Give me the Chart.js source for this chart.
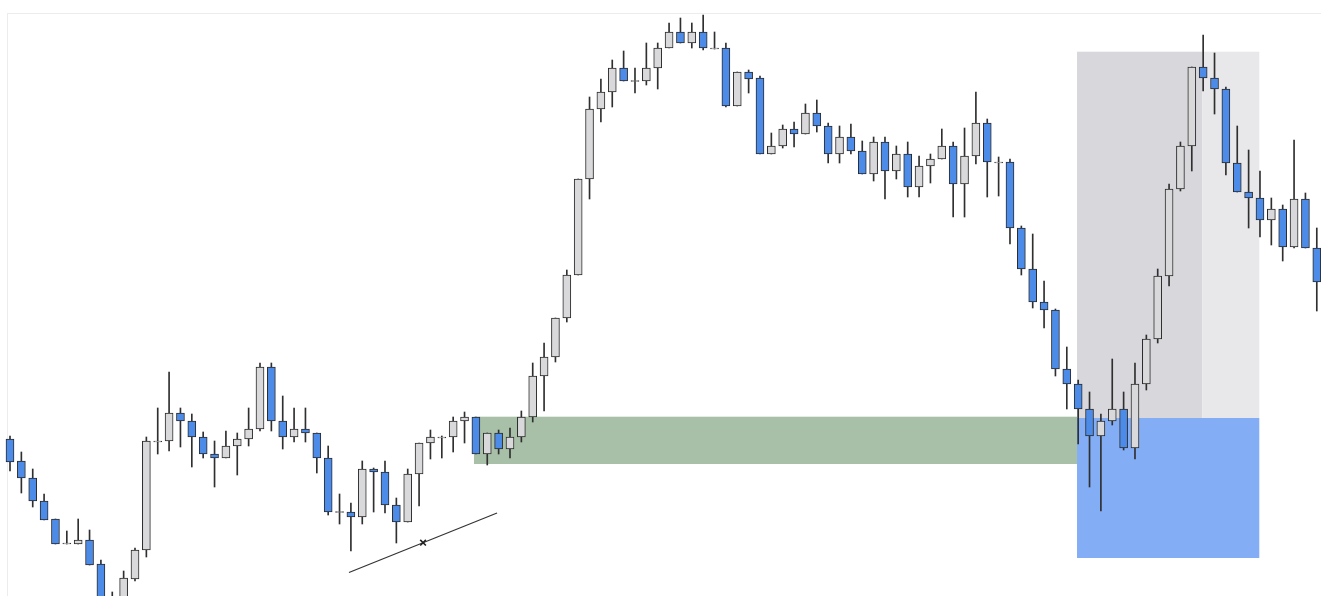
<!DOCTYPE html>
<html>
<head>
<meta charset="utf-8">
<title>Candles</title>
<script src="https://cdn.jsdelivr.net/npm/chart.js@4.4.1/dist/chart.umd.min.js"></script>
<style>
  html, body { margin: 0; padding: 0; background: #fff; }
  #wrap { position: relative; width: 1321px; height: 596px; overflow: hidden; }
  #frame { position: absolute; left: 7px; top: 13px; right: 0; bottom: 0;
           border-left: 1px solid #ececec; border-top: 1px solid #ececec; }
  #chart { position: absolute; left: 0; top: 0; }
</style>
</head>
<body>
<div id="wrap">
  <div id="frame"></div>
  <canvas id="chart" width="1321" height="596"></canvas>
</div>
<script>
// OHLC per bar, oldest first
const opens = [157, 135, 118, 95, 77, 52, 52, 56, 32, -4,
  -16, 17, 46, 154, 155, 183, 175, 159, 142, 138,
  150, 157, 167, 229, 175, 159, 167, 163, 138, 83.5,
  84, 79, 127, 124, 91, 74, 122, 153, 158, 159,
  175, 179, 142, 163, 147, 159, 179, 220, 239, 278,
  321, 417, 487, 504, 528, 514.5, 515, 528, 548, 564,
  553, 564, 547, 548, 490, 524, 518, 442, 450, 467,
  462, 483, 470, 442, 459, 445, 422, 454, 425, 442,
  409, 430, 437, 450, 412, 440, 473, 433, 434, 368,
  327, 294, 286, 227, 212, 187, 160, 175, 187, 148,
  212, 257, 320, 407, 450, 529, 518, 507, 433, 404,
  398, 376, 387, 349, 397, 348];
const highs = [160, 144, 127, 102, 77, 65, 77, 66, 36, 4,
  25, 48, 159, 188, 224, 188, 182, 164, 155, 165,
  163, 188, 233, 233, 200, 188, 188, 163, 150, 102,
  93, 135, 128, 135, 98, 127, 153, 166, 160, 179,
  184, 179, 163, 166, 168, 185, 233, 253, 278, 326,
  417, 499, 517, 536, 545, 528, 553, 553, 573, 578,
  573, 581, 564, 553, 524, 526, 520, 463, 471, 474,
  492, 496, 473, 470, 472, 455, 459, 459, 450, 454,
  440, 442, 467, 454, 468, 504, 477, 439, 437, 370,
  362, 315, 287, 249, 216, 204, 182, 237, 204, 233,
  261, 327, 412, 454, 529, 561, 543, 509, 470, 446,
  425, 398, 391, 456, 403, 368];
const lows = [125, 103, 89, 76, 52, 52, 52, 31, -12, -24,
  -22, 15, 39, 142, 145, 149, 129, 138, 109, 138,
  121, 150, 165, 165, 147, 154, 154, 123, 81, 72,
  45, 72, 84, 83, 53, 74, 90, 137, 138, 144,
  153, 142, 131, 142, 138, 154, 174, 185, 234, 274,
  321, 397, 474, 489, 515, 503, 511, 507, 548, 553,
  548, 546, 547, 489, 490, 503, 442, 442, 448, 449,
  462, 464, 433, 433, 442, 422, 415, 397, 417, 399,
  399, 413, 437, 379, 379, 432, 399, 400, 352, 321,
  288, 268, 220, 187, 152, 109, 85, 171, 146, 137,
  206, 253, 310, 405, 425, 505, 482, 421, 404, 368,
  359, 351, 335, 348, 348, 285];
const closes = [134, 118, 95, 76, 52, 53, 56, 31, -9, -19,
  18, 46, 155, 155, 183, 175, 159, 142, 138, 150,
  157, 167, 229, 175, 159, 167, 163, 138, 84, 84.5,
  79, 127, 124, 91, 74, 122, 153, 159, 159, 175,
  179, 142, 163, 147, 159, 179, 220, 239, 278, 321,
  417, 487, 504, 528, 515, 515.5, 528, 548, 564, 553,
  564, 548, 548, 490, 524, 517, 442, 450, 467, 462,
  483, 470, 442, 459, 445, 422, 454, 425, 442, 409,
  430, 437, 450, 412, 440, 473, 434, 434, 368, 327,
  294, 286, 227, 212, 187, 160, 175, 187, 148, 212,
  257, 320, 407, 450, 529, 518, 507, 433, 404, 398,
  376, 387, 349, 397, 348, 314];

// marked zones: bar-index span and price span
const zoneFrom = [40.83, 93.9, 104.93, 93.9];
const zoneTo = [93.9, 104.93, 109.94, 109.94];
const zoneLow = [132, 178, 178, 38];
const zoneHigh = [179.3, 544.3, 544.3, 178];

// hand-drawn trend line and its cross mark
const trendX = [29.83, 42.86];
const trendY = [23.5, 83];
const markX = [36.35];
const markY = [53.3];

const zoneColors = ['#a7c0a7', '#d8d8dc', '#e8e8ea', '#83adf4'];
const UP = '#d9d9dc';
const DOWN = '#4c8ce8';

const idx = opens.map((_, i) => i);
const rising = idx.map(i => closes[i] >= opens[i]);

const zonePlugin = {
  id: 'zones',
  beforeDatasetsDraw(chart) {
    const { ctx, scales: { x, y } } = chart;
    ctx.save();
    zoneFrom.forEach((from, k) => {
      const left = x.getPixelForValue(from);
      const right = x.getPixelForValue(zoneTo[k]);
      const top = y.getPixelForValue(zoneHigh[k]);
      const bottom = y.getPixelForValue(zoneLow[k]);
      ctx.fillStyle = zoneColors[k];
      ctx.fillRect(left, top, right - left, bottom - top);
    });
    ctx.restore();
  }
};

new Chart(document.getElementById('chart'), {
  type: 'bar',
  data: {
    datasets: [
      {
        label: 'wicks',
        order: 3,
        grouped: false,
        barThickness: 1,
        backgroundColor: '#2f2f2f',
        data: idx.map(i => ({ x: i, y: [lows[i], highs[i]] }))
      },
      {
        label: 'bodies',
        order: 2,
        grouped: false,
        barThickness: 8,
        borderWidth: 1,
        borderSkipped: false,
        borderColor: '#2a2a2a',
        backgroundColor: idx.map(i => rising[i] ? UP : DOWN),
        data: idx.map(i => ({ x: i, y: [opens[i], closes[i]] }))
      },
      {
        type: 'line',
        label: 'trend',
        order: 1,
        borderColor: '#333',
        borderWidth: 1.2,
        pointRadius: 0,
        data: trendX.map((v, i) => ({ x: v, y: trendY[i] }))
      },
      {
        type: 'scatter',
        label: 'mark',
        order: 0,
        pointStyle: 'crossRot',
        pointRadius: 4,
        borderWidth: 1.6,
        borderColor: '#222',
        data: markX.map((v, i) => ({ x: v, y: markY[i] }))
      }
    ]
  },
  options: {
    responsive: false,
    animation: false,
    events: [],
    layout: { padding: 0, autoPadding: false },
    plugins: { legend: { display: false }, tooltip: { enabled: false } },
    scales: {
      x: { type: 'linear', min: -0.88, max: 115.37, offset: false, display: false },
      y: { type: 'linear', min: 0, max: 596, display: false }
    }
  },
  plugins: [zonePlugin]
});
</script>
</body>
</html>
